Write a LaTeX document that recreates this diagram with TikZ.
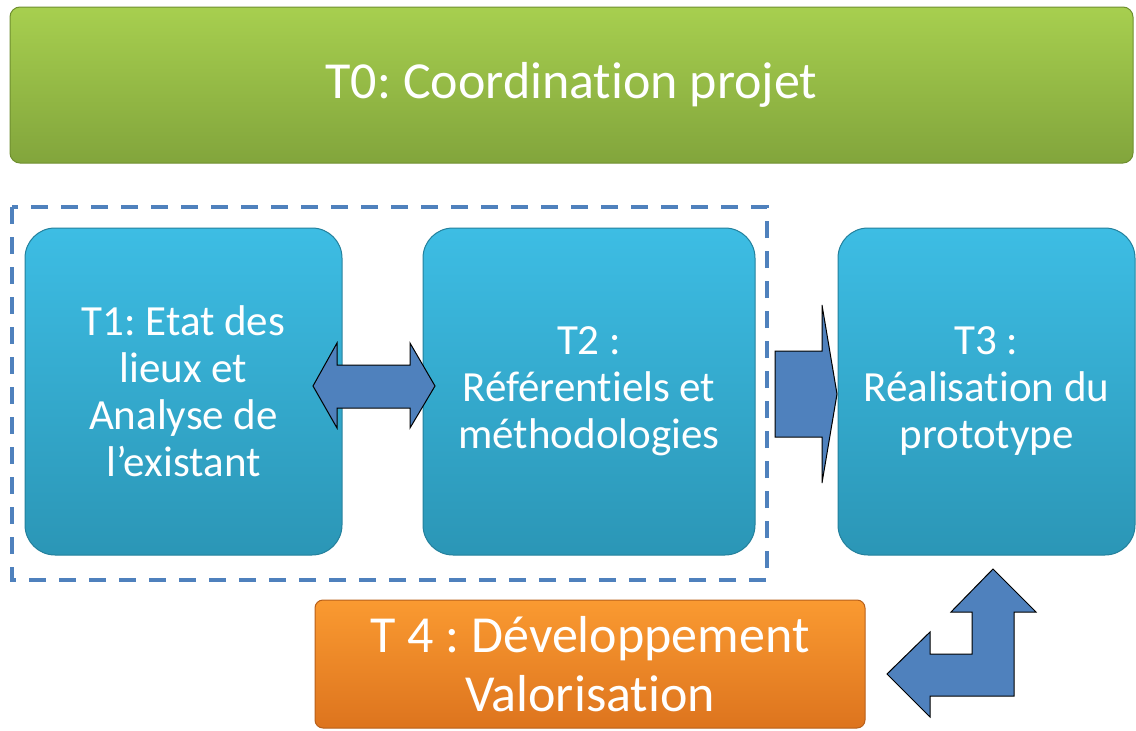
\documentclass[tikz,border=0pt]{standalone}
\usepackage{fontspec}
\setmainfont{Carlito}[RawFeature=-liga]
\usepackage{xcolor}
\usepackage{tikz}
\usetikzlibrary{shapes,arrows,positioning,calc,arrows.meta}
\frenchspacing

\definecolor{vertTop}{HTML}{A7CF4F}
\definecolor{vertBot}{HTML}{82A53C}
\definecolor{vertLine}{HTML}{6F8F2F}
\definecolor{cyanTop}{HTML}{3DBDE4}
\definecolor{cyanBot}{HTML}{2B96B6}
\definecolor{cyanLine}{HTML}{23809C}
\definecolor{orTop}{HTML}{FA9A31}
\definecolor{orBot}{HTML}{DD741E}
\definecolor{orLine}{HTML}{B8601A}
\definecolor{flecheBleu}{HTML}{4F81BD}

\tikzset{
    tache/.style={rectangle, text=white, align=center, line width=1pt},
    tacheVerte/.style={tache, rounded corners=10pt, top color=vertTop, bottom color=vertBot, draw=vertLine,
        font={\fontsize{52}{60}\selectfont}},
    tacheBleue/.style={tache, rounded corners=30pt, top color=cyanTop, bottom color=cyanBot, draw=cyanLine,
        font={\fontsize{43}{47}\selectfont}},
    tacheOrange/.style={tache, rounded corners=8pt, top color=orTop, bottom color=orBot, draw=orLine,
        font={\fontsize{52}{59}\selectfont}},
    fleche/.style={fill=flecheBleu, draw=black, line width=1pt, line join=miter},
    cadre/.style={draw=flecheBleu, line width=4.5pt, dash pattern=on 17pt off 13pt}
}

\begin{document}
\begin{tikzpicture}[x=1pt, y=-1pt]
    \useasboundingbox (0,0) rectangle (1136,731);

    % Coordination
    \node[tacheVerte, minimum width=1123pt, minimum height=156pt] (t0) at (571.5,85)
        {T0: Coordination projet};

    % Groupe T1 - T2
    \draw[cadre] (12,207) rectangle (767,580);

    % Taches
    \node[tacheBleue, minimum width=317pt, minimum height=327pt] (t1) at (183.5,391.5)
        {T1: Etat des\\lieux et\\Analyse de\\l’existant};
    \node[tacheBleue, minimum width=332pt, minimum height=327pt] (t2) at (589,391.5)
        {T2 :\\Référentiels et\\méthodologies};
    \node[tacheBleue, minimum width=297pt, minimum height=327pt] (t3) at (986.5,391.5)
        {T3 :\\Réalisation du\\prototype};
    \node[tacheOrange, minimum width=550pt, minimum height=128pt] (t4) at (590,664)
        {T 4 : Développement\\Valorisation};

    % Fleche double T1 <-> T2
    \draw[fleche] (313,386) -- (337,343) -- (337,365) -- (410,365) -- (410,343)
        -- (435,386) -- (410,428) -- (410,408) -- (337,408) -- (337,428) -- cycle;

    % Fleche T2 -> T3
    \draw[fleche] (775,351) -- (822,351) -- (822,305) -- (837,394) -- (822,483)
        -- (822,437) -- (775,437) -- cycle;

    % Fleche coudee T4 <-> T3
    \draw[fleche] (887,674) -- (930,632) -- (930,654) -- (972,654) -- (972,612)
        -- (951,612) -- (993,569) -- (1036,612) -- (1014,612) -- (1014,696)
        -- (930,696) -- (930,717) -- cycle;
\end{tikzpicture}
\end{document}
